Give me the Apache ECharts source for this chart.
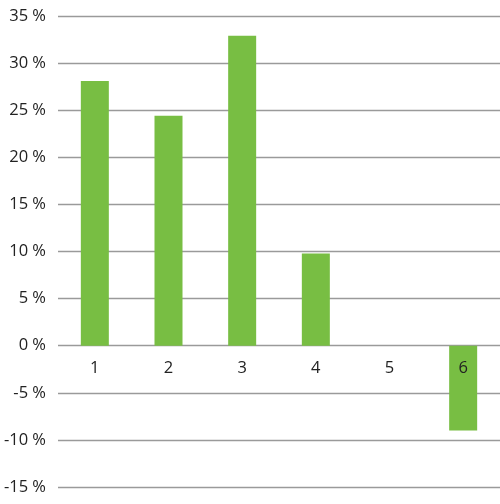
<!DOCTYPE html>
<html>
<head>
<meta charset="utf-8">
<script src="https://cdn.jsdelivr.net/npm/echarts@6/dist/echarts.min.js"></script>
<style>
  body { margin: 0; padding: 0; background: #fff; }
  #main { width: 500px; height: 504px; }
</style>
</head>
<body>
<div id="main"></div>
<script>
const categories = ['1', '2', '3', '4', '5', '6'];
const values = [28.1, 24.4, 32.9, 9.8, 0, -9.0];
const yMin = -15;
const yMax = 35;
const yStep = 5;

const gridTop = 16, gridBottom = 17, chartH = 504;
// axis sits at the zero line; onZero did not move it, so shift by hand
const zeroOffset = -(chartH - gridTop - gridBottom) * (0 - yMin) / (yMax - yMin);

const chart = echarts.init(document.getElementById('main'));
chart.setOption({
  animation: false,
  grid: { left: 58, right: 0, top: gridTop, bottom: gridBottom, containLabel: false, outerBoundsMode: 'none' },
  xAxis: {
    type: 'category',
    data: categories,
    z: 5,
    offset: zeroOffset,
    axisLine: { show: false, onZero: false },
    axisTick: { show: false },
    axisLabel: { margin: 14, fontSize: 16.5, color: '#222', fontFamily: 'Open Sans' }
  },
  yAxis: {
    type: 'value',
    min: yMin,
    max: yMax,
    interval: yStep,
    axisLine: { show: false },
    axisTick: { show: false },
    axisLabel: { margin: 12, fontSize: 16.5, color: '#222', fontFamily: 'Open Sans', formatter: '{value} %' },
    splitLine: { lineStyle: { color: '#9a9a9a', width: 1.3 } }
  },
  series: [{
    type: 'bar',
    data: values,
    barWidth: 28,
    z: 2,
    itemStyle: { color: '#78BE43', borderWidth: 0 }
  }]
});
</script>
</body>
</html>
